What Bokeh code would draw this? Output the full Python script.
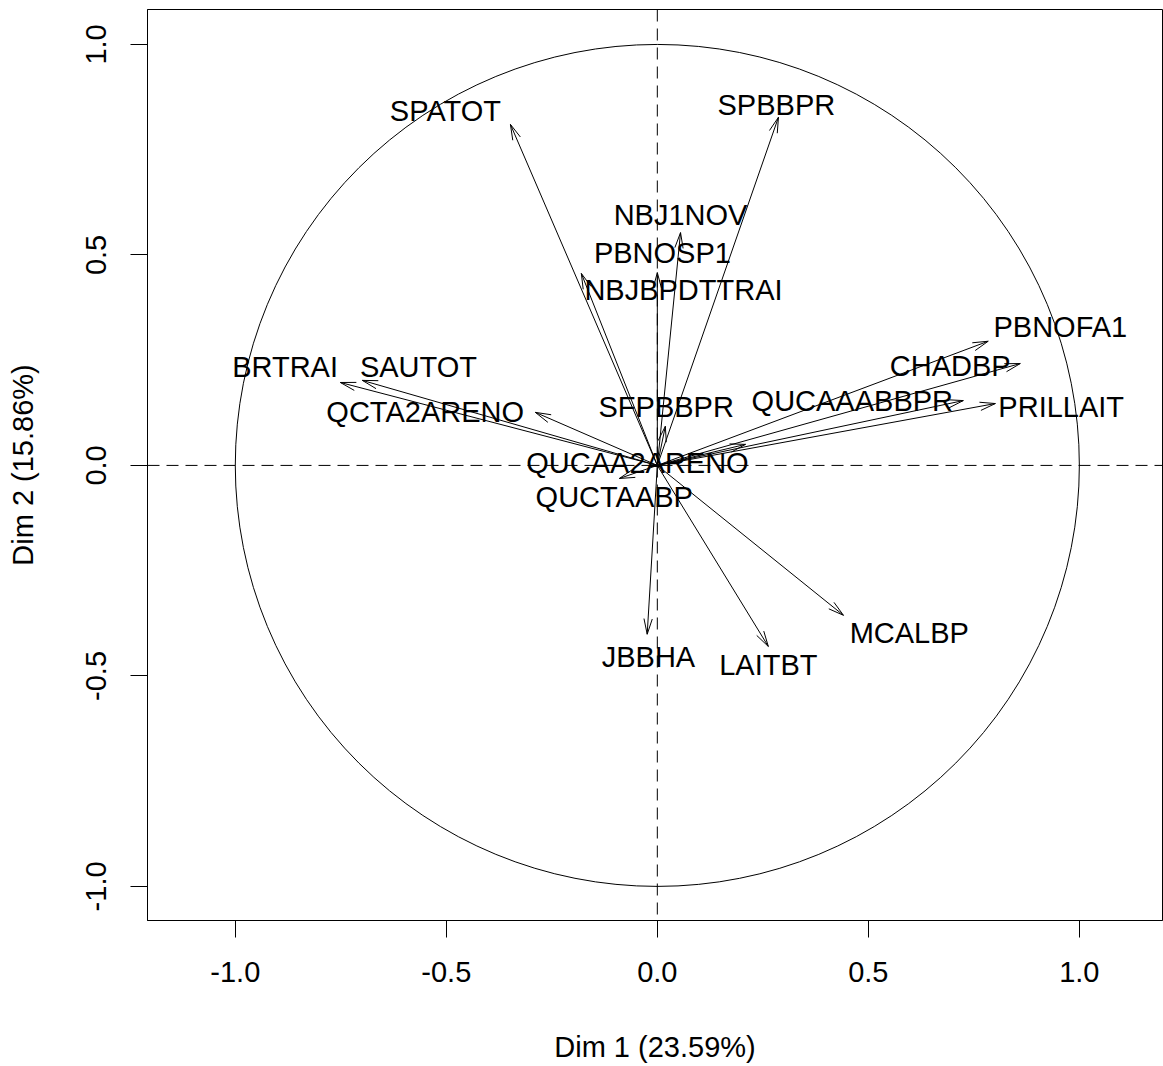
import numpy as np
from bokeh.plotting import figure
from bokeh.models import Span, FixedTicker, PrintfTickFormatter, ColumnDataSource
from bokeh.core.properties import value
from bokeh.embed import file_html
from bokeh.resources import INLINE

# Variable coordinates on the first two principal dimensions
variables = ["SPATOT", "SPBBPR", "NBJ1NOV", "PBNOSP1", "NBJBPDTTRAI",
             "BRTRAI", "SAUTOT", "QCTA2ARENO", "SFPBBPR", "QUCAAABBPR",
             "CHADBP", "PBNOFA1", "PRILLAIT", "QUCAA2ARENO", "QUCTAABP",
             "JBBHA", "LAITBT", "MCALBP"]
dim1 = [-0.348, 0.287, 0.055, 0.000, -0.180,
        -0.751, -0.699, -0.289, 0.019, 0.725,
        0.860, 0.784, 0.801, 0.209, -0.090,
        -0.024, 0.263, 0.441]
dim2 = [0.810, 0.827, 0.553, 0.458, 0.456,
        0.197, 0.202, 0.126, 0.093, 0.154,
        0.242, 0.295, 0.147, 0.050, -0.031,
        -0.401, -0.430, -0.356]

# Where each variable name is written (repelled away from crowded tips)
label_x = [-0.502, 0.282, 0.055, 0.012, 0.062,
           -0.882, -0.566, -0.550, 0.021, 0.462,
           0.694, 0.955, 0.957, -0.047, -0.102,
           -0.021, 0.263, 0.597]
label_y = [0.843, 0.857, 0.596, 0.504, 0.416,
           0.233, 0.233, 0.126, 0.138, 0.152,
           0.235, 0.328, 0.138, 0.005, -0.076,
           -0.456, -0.475, -0.397]

axis_ticks = [-1.0, -0.5, 0.0, 0.5, 1.0]
x_title = "Dim 1 (23.59%)"
y_title = "Dim 2 (15.86%)"

FONT = "Liberation Sans"
FS = "29px"

W, H = 1163, 1066
B_LEFT, B_RIGHT, B_TOP, B_BOTTOM = 147, 1, 9, 146
x_lo, x_hi = -1.208, 1.197
y_lo, y_hi = -1.081, 1.083

p = figure(width=W, height=H, x_range=(x_lo, x_hi), y_range=(y_lo, y_hi),
           output_backend="svg", toolbar_location=None,
           min_border_left=B_LEFT, min_border_right=B_RIGHT,
           min_border_top=B_TOP, min_border_bottom=B_BOTTOM,
           background_fill_color="white", border_fill_color="white")
p.grid.visible = False
p.outline_line_color = "black"
p.outline_line_width = 1

for ax in (p.xaxis[0], p.yaxis[0]):
    ax.ticker = FixedTicker(ticks=axis_ticks)
    ax.formatter = PrintfTickFormatter(format="%.1f")
    ax.minor_tick_line_color = None
    ax.major_tick_in = 0
    ax.major_tick_out = 17
    ax.major_tick_line_color = "black"
    ax.axis_line_color = "black"
    ax.major_label_text_font = FONT
    ax.major_label_text_font_size = FS
    ax.major_label_text_color = "black"
    ax.axis_label_text_font = FONT
    ax.axis_label_text_font_size = FS
    ax.axis_label_text_font_style = "normal"
    ax.axis_label_text_color = "black"

p.xaxis.axis_label = x_title
p.yaxis.axis_label = y_title
p.xaxis.major_label_standoff = 24
p.xaxis.axis_label_standoff = 46
p.yaxis.major_label_standoff = 24
p.yaxis.major_label_orientation = "vertical"
p.yaxis.axis_label_standoff = 45

# Dashed reference lines through the origin
p.add_layout(Span(location=0, dimension="height", line_color="black",
                  line_dash="12 7", line_width=1))
p.add_layout(Span(location=0, dimension="width", line_color="black",
                  line_dash="12 7", line_width=1))

# Correlation circle of radius 1
p.ellipse(x=0, y=0, width=2, height=2, fill_color=None,
          line_color="black", line_width=1)

# Arrow shafts from the origin
x = np.array(dim1)
y = np.array(dim2)
src = ColumnDataSource(dict(x0=np.zeros_like(x), y0=np.zeros_like(y), x1=x, y1=y))
p.segment(x0="x0", y0="y0", x1="x1", y1="y1", source=src,
          line_color="black", line_width=1)

# Open arrow heads: 16 px long, 15 degrees either side of the shaft
kx = (W - B_LEFT - B_RIGHT) / (x_hi - x_lo)
ky = (H - B_TOP - B_BOTTOM) / (y_hi - y_lo)
ang = np.arctan2(y * ky, x * kx)
head_len = 16.0
half = np.deg2rad(15)
hx, hy = [], []
for xi, yi, a in zip(x, y, ang):
    for s in (half, -half):
        hx.append([xi, xi - head_len * np.cos(a + s) / kx])
        hy.append([yi, yi - head_len * np.sin(a + s) / ky])
p.multi_line(xs=hx, ys=hy, line_color="black", line_width=1)

# Variable names
lab = ColumnDataSource(dict(x=label_x, y=label_y, text=variables))
p.text(x="x", y="y", text="text", source=lab, text_align="center",
       text_baseline="middle", text_font=value(FONT), text_font_size=FS,
       text_color="black")

open("out.html", "w").write(file_html(p, INLINE))
